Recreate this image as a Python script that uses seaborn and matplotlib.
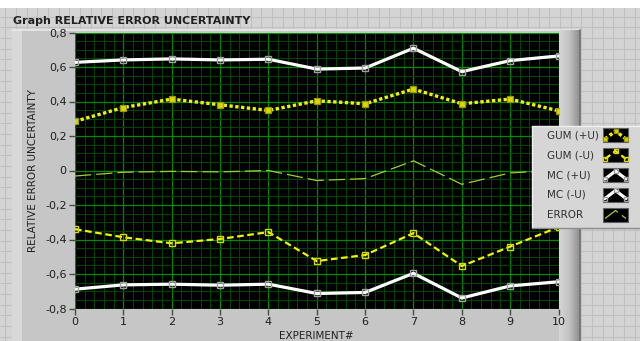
import numpy as np
import pandas as pd
import matplotlib
matplotlib.use("Agg")
import matplotlib.pyplot as plt
from matplotlib.patches import Rectangle
from matplotlib.lines import Line2D
from matplotlib.ticker import MultipleLocator
import seaborn as sns

# ---- data ----
experiments = [0, 1, 2, 3, 4, 5, 6, 7, 8, 9, 10]
mc_plus = [0.627, 0.641, 0.647, 0.641, 0.645, 0.588, 0.594, 0.709, 0.573, 0.637, 0.664]
gum_plus = [0.285, 0.365, 0.414, 0.381, 0.348, 0.404, 0.387, 0.472, 0.387, 0.414, 0.346]
error = [-0.032, -0.010, -0.005, -0.008, 0.0, -0.058, -0.047, 0.056, -0.080, -0.014, 0.002]
gum_minus = [-0.340, -0.387, -0.422, -0.397, -0.357, -0.525, -0.490, -0.363, -0.554, -0.441, -0.328]
mc_minus = [-0.688, -0.663, -0.659, -0.665, -0.659, -0.713, -0.707, -0.596, -0.739, -0.669, -0.645]

series_names = ["GUM (+U)", "GUM (-U)", "MC (+U)", "MC (-U)", "ERROR"]
yticks = [-0.8, -0.6, -0.4, -0.2, 0.0, 0.2, 0.4, 0.6, 0.8]
ytick_labels = ["-0,8", "-0,6", "-0,4", "-0,2", "0", "0,2", "0,4", "0,6", "0,8"]
xticks = experiments
title = "Graph RELATIVE ERROR UNCERTAINTY"
xlabel = "EXPERIMENT#"
ylabel = "RELATIVE ERROR UNCERTAINTY"

sns.set_theme(style="white")
plt.rcParams['font.family'] = ['DejaVu Sans']

W, H = 640, 341
fig = plt.figure(figsize=(W / 100, H / 100), dpi=100)
fig.patch.set_facecolor("#d4d4d4")

def px_rect(x0, y0, x1, y1, **kw):
    fig.add_artist(Rectangle((x0 / W, 1 - y1 / H), (x1 - x0) / W, (y1 - y0) / H,
                             transform=fig.transFigure, **kw))

def px_line(x0, y0, x1, y1, **kw):
    fig.add_artist(Line2D([x0 / W, x1 / W], [1 - y0 / H, 1 - y1 / H],
                          transform=fig.transFigure, **kw))

# panel background grid
pitch = 10.67
gx = 5.3
while gx < W:
    px_line(gx, 8, gx, H, color="#c0c0c0", lw=0.8, zorder=0)
    gx += pitch
gy = 6.0
while gy < H:
    if gy > 8:
        px_line(0, gy, W, gy, color="#c0c0c0", lw=0.8, zorder=0)
    gy += pitch
# white top strip
px_rect(0, 0, W, 8, facecolor="white", edgecolor="none", zorder=0.5)

# graph face
px_rect(12, 30, 580, H, facecolor="#c6c6c6", edgecolor="none", zorder=1)
px_rect(12, 30, 22, H, facecolor="#d8d8d8", edgecolor="none", zorder=1.1)
px_line(12, 30, 580, 30, color="#e8e8e8", lw=1.2, zorder=1.2)
# right bevel gradient
grad = np.linspace(0, 1, 40).reshape(1, -1)
bev_ax = fig.add_axes([559 / W, 0, (580 - 559) / W, 1 - 30 / H], zorder=1.3)
bev_ax.imshow(grad, aspect="auto", cmap=matplotlib.colors.LinearSegmentedColormap.from_list(
    "b", ["#d6d6d6", "#c2c2c2", "#8e8e8e"]), extent=[0, 1, 0, 1])
bev_ax.axis("off")
px_line(580, 30, 580, H, color="#6e6e6e", lw=1.2, zorder=1.4)

fig.text(13 / W, 1 - 21 / H, title, fontsize=8, fontweight="bold", color="#202020",
         va="center", ha="left", zorder=3)

# plot axes
ax = fig.add_axes([75 / W, 1 - 308.5 / H, (558.5 - 75) / W, (308.5 - 32.5) / H], zorder=2)
ax.set_facecolor("black")

series = [
    (mc_plus, dict(color="white", lw=2.3, linestyle="-", marker="s", markersize=5,
                   markerfacecolor="none", markeredgecolor="#a0a0a0", markeredgewidth=1.0)),
    (mc_minus, dict(color="white", lw=2.3, linestyle="-", marker="s", markersize=5,
                    markerfacecolor="none", markeredgecolor="#a0a0a0", markeredgewidth=1.0)),
    (gum_plus, dict(color="#f2f200", lw=2.4, linestyle=(0, (1, 0.75)), marker="s", markersize=5,
                    markerfacecolor="#d8d800", markeredgecolor="#9a9a00", markeredgewidth=0.9)),
    (gum_minus, dict(color="#f2f200", lw=1.6, linestyle=(0, (3, 1.6)), marker="s", markersize=4,
                     markerfacecolor="none", markeredgecolor="#d8d800", markeredgewidth=1.0)),
    (error, dict(color="#a6cc30", lw=0.9, linestyle=(0, (13, 4)), marker=None)),
]
for vals, kw in series:
    df = pd.DataFrame({"x": experiments, "y": vals})
    sns.lineplot(data=df, x="x", y="y", ax=ax, legend=False, zorder=5, **kw)

ax.set_xlim(0, 10)
ax.set_ylim(-0.8, 0.8)
ax.xaxis.set_major_locator(MultipleLocator(1))
ax.xaxis.set_minor_locator(MultipleLocator(0.2))
ax.yaxis.set_major_locator(MultipleLocator(0.2))
ax.yaxis.set_minor_locator(MultipleLocator(0.05))
ax.set_xticks(xticks)
ax.set_xticklabels([str(v) for v in xticks])
ax.set_yticks(yticks)
ax.set_yticklabels(ytick_labels)
ax.grid(True, which="major", color="#008a00", lw=0.9)
ax.grid(True, which="minor", color="#004400", lw=0.8)
ax.set_axisbelow(True)
for s in ax.spines.values():
    s.set_visible(False)
ax.tick_params(axis="both", which="major", direction="out", length=4, width=1,
               color="#4a4a4a", labelsize=8, labelcolor="#202020", pad=2,
               bottom=True, left=True)
ax.tick_params(axis="both", which="minor", length=0)
ax.set_xlabel(xlabel, fontsize=7.5, color="#202020", labelpad=3)
ax.set_ylabel(ylabel, fontsize=7.5, color="#202020", labelpad=5)

# legend box
px_rect(532, 126, 640, 228, facecolor="#d6d6d6", edgecolor="none", zorder=6)
px_line(532, 126, 640, 126, color="#f0f0f0", lw=1, zorder=6.1)
px_line(532, 126, 532, 228, color="#f0f0f0", lw=1, zorder=6.1)
px_line(532, 228, 640, 228, color="#8c8c8c", lw=1, zorder=6.1)
leg_y = [135, 155, 175, 194.5, 214.5]
legend_styles = [series[2][1], series[3][1], series[0][1], series[1][1], series[4][1]]
for name, yy, st in zip(series_names, leg_y, legend_styles):
    fig.text(547 / W, 1 - yy / H, name, fontsize=7.5, color="#303030", va="center",
             ha="left", zorder=7)
    px_rect(603, yy - 7, 628, yy + 7, facecolor="black", edgecolor="#606060", lw=0.8, zorder=7)
    xs = np.array([605, 615.5, 626])
    ys = np.array([yy + 4, yy - 4, yy + 4])
    kw = dict(st)
    kw["markersize"] = min(kw.get("markersize", 0) or 0, 3.5) if kw.get("marker") else 0
    fig.add_artist(Line2D(xs / W, 1 - ys / H, transform=fig.transFigure, zorder=8,
                          **{k: v for k, v in kw.items()}))

fig.savefig("out.png", dpi=100)
